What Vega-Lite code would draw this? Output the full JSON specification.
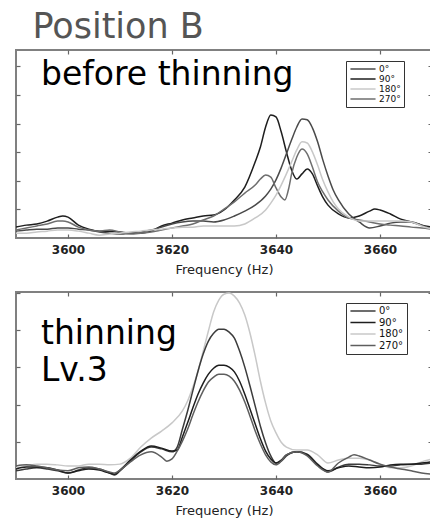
{
"$schema": "https://vega.github.io/schema/vega-lite/v6.json",
"background": "white",
"padding": {"left": 14, "top": 10, "right": 0, "bottom": 0},
"title": {"text": "Position B", "anchor": "start", "font": "DejaVu Sans", "fontSize": 35, "fontWeight": "normal", "color": "#555555", "dx": 18, "offset": 3},
"spacing": 13,
"resolve": {"scale": {"color": "independent"}},
"config": {
  "view": {"stroke": "#808080", "strokeWidth": 2},
  "axis": {"domain": false, "grid": false, "ticks": true, "tickSize": -4, "tickColor": "#666666", "tickWidth": 1.2, "labelFont": "DejaVu Sans", "labelFontWeight": "bold", "labelFontSize": 12, "labelColor": "#222222", "titleFont": "DejaVu Sans", "titleFontSize": 13, "titleFontWeight": "normal", "titleColor": "#222222", "format": "d"},
  "legend": {"title": null, "symbolType": "M-3,0H3", "symbolSize": 70, "symbolStrokeWidth": 1.5, "symbolOffset": 9, "labelFont": "DejaVu Sans", "labelColor": "#111111", "labelAlign": "left", "strokeColor": "#333333", "fillColor": "white", "padding": 3, "labelOffset": 11}
},
"datasets": {
"before": [
{"a":"90°","f":3590,"v":0.38},{"a":"90°","f":3592,"v":0.45},{"a":"90°","f":3594,"v":0.49},{"a":"90°","f":3596,"v":0.59},{"a":"90°","f":3598,"v":0.73},{"a":"90°","f":3599,"v":0.77},{"a":"90°","f":3600,"v":0.73},{"a":"90°","f":3602,"v":0.45},{"a":"90°","f":3604,"v":0.31},{"a":"90°","f":3606,"v":0.24},{"a":"90°","f":3608,"v":0.24},{"a":"90°","f":3610,"v":0.21},{"a":"90°","f":3612,"v":0.17},{"a":"90°","f":3614,"v":0.17},{"a":"90°","f":3616,"v":0.24},{"a":"90°","f":3618,"v":0.42},{"a":"90°","f":3620,"v":0.52},{"a":"90°","f":3622,"v":0.63},{"a":"90°","f":3624,"v":0.70},{"a":"90°","f":3626,"v":0.77},{"a":"90°","f":3628,"v":0.80},{"a":"90°","f":3630,"v":0.98},{"a":"90°","f":3632,"v":1.33},{"a":"90°","f":3634,"v":1.78},{"a":"90°","f":3636,"v":2.66},{"a":"90°","f":3637,"v":3.18},{"a":"90°","f":3638,"v":3.88},{"a":"90°","f":3639,"v":4.30},{"a":"90°","f":3640,"v":4.23},{"a":"90°","f":3641,"v":3.71},{"a":"90°","f":3642,"v":3.01},{"a":"90°","f":3643,"v":2.38},{"a":"90°","f":3644,"v":2.06},{"a":"90°","f":3645,"v":2.24},{"a":"90°","f":3646,"v":2.41},{"a":"90°","f":3647,"v":2.24},{"a":"90°","f":3648,"v":1.82},{"a":"90°","f":3649,"v":1.43},{"a":"90°","f":3650,"v":1.15},{"a":"90°","f":3652,"v":0.84},{"a":"90°","f":3654,"v":0.70},{"a":"90°","f":3656,"v":0.77},{"a":"90°","f":3658,"v":0.94},{"a":"90°","f":3659,"v":1.01},{"a":"90°","f":3660,"v":0.98},{"a":"90°","f":3662,"v":0.84},{"a":"90°","f":3664,"v":0.66},{"a":"90°","f":3666,"v":0.56},{"a":"90°","f":3668,"v":0.45},{"a":"90°","f":3670,"v":0.38},
{"a":"0°","f":3590,"v":0.24},{"a":"0°","f":3592,"v":0.28},{"a":"0°","f":3594,"v":0.31},{"a":"0°","f":3596,"v":0.31},{"a":"0°","f":3598,"v":0.35},{"a":"0°","f":3600,"v":0.35},{"a":"0°","f":3602,"v":0.31},{"a":"0°","f":3604,"v":0.28},{"a":"0°","f":3606,"v":0.21},{"a":"0°","f":3608,"v":0.17},{"a":"0°","f":3610,"v":0.14},{"a":"0°","f":3612,"v":0.17},{"a":"0°","f":3614,"v":0.21},{"a":"0°","f":3616,"v":0.28},{"a":"0°","f":3618,"v":0.38},{"a":"0°","f":3620,"v":0.49},{"a":"0°","f":3622,"v":0.56},{"a":"0°","f":3624,"v":0.59},{"a":"0°","f":3626,"v":0.59},{"a":"0°","f":3628,"v":0.56},{"a":"0°","f":3630,"v":0.63},{"a":"0°","f":3632,"v":0.77},{"a":"0°","f":3634,"v":0.94},{"a":"0°","f":3636,"v":1.15},{"a":"0°","f":3638,"v":1.47},{"a":"0°","f":3639,"v":1.71},{"a":"0°","f":3640,"v":2.03},{"a":"0°","f":3641,"v":2.45},{"a":"0°","f":3642,"v":2.94},{"a":"0°","f":3643,"v":3.43},{"a":"0°","f":3644,"v":3.88},{"a":"0°","f":3645,"v":4.16},{"a":"0°","f":3646,"v":4.13},{"a":"0°","f":3647,"v":3.85},{"a":"0°","f":3648,"v":3.36},{"a":"0°","f":3649,"v":2.73},{"a":"0°","f":3650,"v":2.17},{"a":"0°","f":3651,"v":1.68},{"a":"0°","f":3652,"v":1.33},{"a":"0°","f":3654,"v":0.84},{"a":"0°","f":3656,"v":0.56},{"a":"0°","f":3658,"v":0.35},{"a":"0°","f":3660,"v":0.42},{"a":"0°","f":3662,"v":0.52},{"a":"0°","f":3664,"v":0.56},{"a":"0°","f":3666,"v":0.56},{"a":"0°","f":3668,"v":0.45},{"a":"0°","f":3670,"v":0.31},
{"a":"270°","f":3590,"v":0.28},{"a":"270°","f":3592,"v":0.35},{"a":"270°","f":3594,"v":0.42},{"a":"270°","f":3596,"v":0.49},{"a":"270°","f":3598,"v":0.59},{"a":"270°","f":3599,"v":0.59},{"a":"270°","f":3600,"v":0.56},{"a":"270°","f":3602,"v":0.38},{"a":"270°","f":3604,"v":0.28},{"a":"270°","f":3606,"v":0.24},{"a":"270°","f":3608,"v":0.28},{"a":"270°","f":3610,"v":0.21},{"a":"270°","f":3612,"v":0.14},{"a":"270°","f":3614,"v":0.17},{"a":"270°","f":3616,"v":0.21},{"a":"270°","f":3618,"v":0.28},{"a":"270°","f":3620,"v":0.35},{"a":"270°","f":3622,"v":0.42},{"a":"270°","f":3624,"v":0.49},{"a":"270°","f":3626,"v":0.63},{"a":"270°","f":3628,"v":0.77},{"a":"270°","f":3630,"v":1.01},{"a":"270°","f":3632,"v":1.26},{"a":"270°","f":3634,"v":1.57},{"a":"270°","f":3636,"v":1.85},{"a":"270°","f":3637,"v":2.06},{"a":"270°","f":3638,"v":2.20},{"a":"270°","f":3639,"v":2.13},{"a":"270°","f":3640,"v":1.75},{"a":"270°","f":3641,"v":1.43},{"a":"270°","f":3641.7,"v":1.33},{"a":"270°","f":3642.5,"v":1.78},{"a":"270°","f":3643,"v":2.24},{"a":"270°","f":3644,"v":2.83},{"a":"270°","f":3645,"v":3.11},{"a":"270°","f":3646,"v":2.94},{"a":"270°","f":3647,"v":2.48},{"a":"270°","f":3648,"v":1.96},{"a":"270°","f":3649,"v":1.61},{"a":"270°","f":3650,"v":1.33},{"a":"270°","f":3652,"v":0.94},{"a":"270°","f":3654,"v":0.70},{"a":"270°","f":3656,"v":0.63},{"a":"270°","f":3658,"v":0.56},{"a":"270°","f":3660,"v":0.49},{"a":"270°","f":3662,"v":0.45},{"a":"270°","f":3664,"v":0.42},{"a":"270°","f":3666,"v":0.38},{"a":"270°","f":3668,"v":0.35},{"a":"270°","f":3670,"v":0.31},
{"a":"180°","f":3590,"v":0.17},{"a":"180°","f":3592,"v":0.17},{"a":"180°","f":3594,"v":0.21},{"a":"180°","f":3596,"v":0.24},{"a":"180°","f":3598,"v":0.28},{"a":"180°","f":3600,"v":0.28},{"a":"180°","f":3602,"v":0.24},{"a":"180°","f":3604,"v":0.17},{"a":"180°","f":3606,"v":0.10},{"a":"180°","f":3608,"v":0.14},{"a":"180°","f":3610,"v":0.17},{"a":"180°","f":3612,"v":0.21},{"a":"180°","f":3614,"v":0.24},{"a":"180°","f":3616,"v":0.28},{"a":"180°","f":3618,"v":0.31},{"a":"180°","f":3620,"v":0.35},{"a":"180°","f":3622,"v":0.38},{"a":"180°","f":3624,"v":0.38},{"a":"180°","f":3626,"v":0.42},{"a":"180°","f":3628,"v":0.42},{"a":"180°","f":3630,"v":0.42},{"a":"180°","f":3632,"v":0.42},{"a":"180°","f":3634,"v":0.49},{"a":"180°","f":3636,"v":0.70},{"a":"180°","f":3638,"v":0.98},{"a":"180°","f":3639,"v":1.22},{"a":"180°","f":3640,"v":1.50},{"a":"180°","f":3641,"v":1.85},{"a":"180°","f":3642,"v":2.24},{"a":"180°","f":3643,"v":2.66},{"a":"180°","f":3644,"v":3.08},{"a":"180°","f":3645,"v":3.36},{"a":"180°","f":3646,"v":3.32},{"a":"180°","f":3647,"v":3.01},{"a":"180°","f":3648,"v":2.55},{"a":"180°","f":3649,"v":2.03},{"a":"180°","f":3650,"v":1.61},{"a":"180°","f":3651,"v":1.26},{"a":"180°","f":3652,"v":1.01},{"a":"180°","f":3654,"v":0.73},{"a":"180°","f":3656,"v":0.59},{"a":"180°","f":3660,"v":0.59},{"a":"180°","f":3664,"v":0.59},{"a":"180°","f":3666,"v":0.56},{"a":"180°","f":3668,"v":0.42},{"a":"180°","f":3670,"v":0.31}
],
"lv3": [
{"a":"180°","f":3590,"v":0.30},{"a":"180°","f":3592,"v":0.35},{"a":"180°","f":3594,"v":0.40},{"a":"180°","f":3596,"v":0.40},{"a":"180°","f":3598,"v":0.38},{"a":"180°","f":3600,"v":0.35},{"a":"180°","f":3602,"v":0.35},{"a":"180°","f":3604,"v":0.40},{"a":"180°","f":3606,"v":0.40},{"a":"180°","f":3608,"v":0.38},{"a":"180°","f":3610,"v":0.40},{"a":"180°","f":3612,"v":0.56},{"a":"180°","f":3614,"v":0.86},{"a":"180°","f":3616,"v":1.10},{"a":"180°","f":3618,"v":1.29},{"a":"180°","f":3620,"v":1.51},{"a":"180°","f":3622,"v":1.83},{"a":"180°","f":3623,"v":2.10},{"a":"180°","f":3624,"v":2.47},{"a":"180°","f":3625,"v":2.90},{"a":"180°","f":3626,"v":3.44},{"a":"180°","f":3627,"v":3.98},{"a":"180°","f":3628,"v":4.49},{"a":"180°","f":3629,"v":4.81},{"a":"180°","f":3630,"v":4.97},{"a":"180°","f":3631,"v":5.00},{"a":"180°","f":3632,"v":4.92},{"a":"180°","f":3633,"v":4.73},{"a":"180°","f":3634,"v":4.41},{"a":"180°","f":3635,"v":3.92},{"a":"180°","f":3636,"v":3.31},{"a":"180°","f":3637,"v":2.63},{"a":"180°","f":3638,"v":2.04},{"a":"180°","f":3639,"v":1.56},{"a":"180°","f":3640,"v":1.24},{"a":"180°","f":3641,"v":0.99},{"a":"180°","f":3642,"v":0.86},{"a":"180°","f":3644,"v":0.78},{"a":"180°","f":3646,"v":0.78},{"a":"180°","f":3648,"v":0.65},{"a":"180°","f":3650,"v":0.43},{"a":"180°","f":3652,"v":0.51},{"a":"180°","f":3654,"v":0.56},{"a":"180°","f":3656,"v":0.56},{"a":"180°","f":3658,"v":0.51},{"a":"180°","f":3660,"v":0.40},{"a":"180°","f":3662,"v":0.30},{"a":"180°","f":3664,"v":0.30},{"a":"180°","f":3666,"v":0.35},{"a":"180°","f":3668,"v":0.46},{"a":"180°","f":3670,"v":0.54},
{"a":"0°","f":3590,"v":0.22},{"a":"0°","f":3592,"v":0.27},{"a":"0°","f":3594,"v":0.30},{"a":"0°","f":3596,"v":0.27},{"a":"0°","f":3598,"v":0.22},{"a":"0°","f":3600,"v":0.16},{"a":"0°","f":3602,"v":0.24},{"a":"0°","f":3604,"v":0.30},{"a":"0°","f":3606,"v":0.27},{"a":"0°","f":3608,"v":0.16},{"a":"0°","f":3609,"v":0.11},{"a":"0°","f":3610,"v":0.22},{"a":"0°","f":3612,"v":0.48},{"a":"0°","f":3614,"v":0.73},{"a":"0°","f":3616,"v":0.86},{"a":"0°","f":3618,"v":0.81},{"a":"0°","f":3620,"v":0.73},{"a":"0°","f":3621,"v":0.86},{"a":"0°","f":3622,"v":1.34},{"a":"0°","f":3623,"v":1.83},{"a":"0°","f":3624,"v":2.37},{"a":"0°","f":3625,"v":2.90},{"a":"0°","f":3626,"v":3.36},{"a":"0°","f":3627,"v":3.71},{"a":"0°","f":3628,"v":3.92},{"a":"0°","f":3629,"v":4.03},{"a":"0°","f":3630,"v":4.03},{"a":"0°","f":3631,"v":3.95},{"a":"0°","f":3632,"v":3.79},{"a":"0°","f":3633,"v":3.44},{"a":"0°","f":3634,"v":3.01},{"a":"0°","f":3635,"v":2.50},{"a":"0°","f":3636,"v":1.96},{"a":"0°","f":3637,"v":1.42},{"a":"0°","f":3638,"v":0.97},{"a":"0°","f":3639,"v":0.62},{"a":"0°","f":3640,"v":0.43},{"a":"0°","f":3641,"v":0.48},{"a":"0°","f":3642,"v":0.62},{"a":"0°","f":3644,"v":0.73},{"a":"0°","f":3646,"v":0.67},{"a":"0°","f":3648,"v":0.40},{"a":"0°","f":3650,"v":0.19},{"a":"0°","f":3652,"v":0.32},{"a":"0°","f":3654,"v":0.40},{"a":"0°","f":3656,"v":0.40},{"a":"0°","f":3658,"v":0.38},{"a":"0°","f":3660,"v":0.35},{"a":"0°","f":3662,"v":0.35},{"a":"0°","f":3664,"v":0.38},{"a":"0°","f":3666,"v":0.40},{"a":"0°","f":3668,"v":0.40},{"a":"0°","f":3670,"v":0.43},
{"a":"90°","f":3590,"v":0.27},{"a":"90°","f":3592,"v":0.32},{"a":"90°","f":3594,"v":0.32},{"a":"90°","f":3596,"v":0.30},{"a":"90°","f":3598,"v":0.24},{"a":"90°","f":3600,"v":0.16},{"a":"90°","f":3602,"v":0.22},{"a":"90°","f":3604,"v":0.27},{"a":"90°","f":3606,"v":0.24},{"a":"90°","f":3608,"v":0.16},{"a":"90°","f":3609,"v":0.13},{"a":"90°","f":3610,"v":0.24},{"a":"90°","f":3612,"v":0.51},{"a":"90°","f":3614,"v":0.75},{"a":"90°","f":3616,"v":0.89},{"a":"90°","f":3618,"v":0.83},{"a":"90°","f":3620,"v":0.75},{"a":"90°","f":3621,"v":0.78},{"a":"90°","f":3622,"v":1.13},{"a":"90°","f":3623,"v":1.51},{"a":"90°","f":3624,"v":1.91},{"a":"90°","f":3625,"v":2.28},{"a":"90°","f":3626,"v":2.58},{"a":"90°","f":3627,"v":2.82},{"a":"90°","f":3628,"v":2.98},{"a":"90°","f":3629,"v":3.06},{"a":"90°","f":3630,"v":3.06},{"a":"90°","f":3631,"v":3.01},{"a":"90°","f":3632,"v":2.88},{"a":"90°","f":3633,"v":2.63},{"a":"90°","f":3634,"v":2.28},{"a":"90°","f":3635,"v":1.88},{"a":"90°","f":3636,"v":1.48},{"a":"90°","f":3637,"v":1.08},{"a":"90°","f":3638,"v":0.75},{"a":"90°","f":3639,"v":0.54},{"a":"90°","f":3640,"v":0.43},{"a":"90°","f":3641,"v":0.51},{"a":"90°","f":3642,"v":0.65},{"a":"90°","f":3644,"v":0.73},{"a":"90°","f":3646,"v":0.65},{"a":"90°","f":3648,"v":0.38},{"a":"90°","f":3650,"v":0.22},{"a":"90°","f":3652,"v":0.30},{"a":"90°","f":3654,"v":0.35},{"a":"90°","f":3656,"v":0.32},{"a":"90°","f":3658,"v":0.30},{"a":"90°","f":3660,"v":0.32},{"a":"90°","f":3662,"v":0.38},{"a":"90°","f":3664,"v":0.40},{"a":"90°","f":3666,"v":0.40},{"a":"90°","f":3668,"v":0.43},{"a":"90°","f":3670,"v":0.46},
{"a":"270°","f":3590,"v":0.35},{"a":"270°","f":3592,"v":0.38},{"a":"270°","f":3594,"v":0.35},{"a":"270°","f":3596,"v":0.30},{"a":"270°","f":3598,"v":0.24},{"a":"270°","f":3600,"v":0.22},{"a":"270°","f":3602,"v":0.30},{"a":"270°","f":3604,"v":0.32},{"a":"270°","f":3606,"v":0.27},{"a":"270°","f":3608,"v":0.19},{"a":"270°","f":3609,"v":0.16},{"a":"270°","f":3610,"v":0.24},{"a":"270°","f":3612,"v":0.46},{"a":"270°","f":3614,"v":0.65},{"a":"270°","f":3616,"v":0.73},{"a":"270°","f":3618,"v":0.59},{"a":"270°","f":3619,"v":0.48},{"a":"270°","f":3620,"v":0.54},{"a":"270°","f":3621,"v":0.75},{"a":"270°","f":3622,"v":1.02},{"a":"270°","f":3623,"v":1.34},{"a":"270°","f":3624,"v":1.72},{"a":"270°","f":3625,"v":2.07},{"a":"270°","f":3626,"v":2.37},{"a":"270°","f":3627,"v":2.61},{"a":"270°","f":3628,"v":2.74},{"a":"270°","f":3629,"v":2.82},{"a":"270°","f":3630,"v":2.82},{"a":"270°","f":3631,"v":2.77},{"a":"270°","f":3632,"v":2.63},{"a":"270°","f":3633,"v":2.39},{"a":"270°","f":3634,"v":2.07},{"a":"270°","f":3635,"v":1.69},{"a":"270°","f":3636,"v":1.29},{"a":"270°","f":3637,"v":0.94},{"a":"270°","f":3638,"v":0.65},{"a":"270°","f":3639,"v":0.46},{"a":"270°","f":3640,"v":0.38},{"a":"270°","f":3641,"v":0.48},{"a":"270°","f":3642,"v":0.65},{"a":"270°","f":3644,"v":0.73},{"a":"270°","f":3646,"v":0.62},{"a":"270°","f":3648,"v":0.35},{"a":"270°","f":3650,"v":0.19},{"a":"270°","f":3652,"v":0.43},{"a":"270°","f":3654,"v":0.59},{"a":"270°","f":3655,"v":0.65},{"a":"270°","f":3656,"v":0.62},{"a":"270°","f":3658,"v":0.51},{"a":"270°","f":3660,"v":0.40},{"a":"270°","f":3662,"v":0.32},{"a":"270°","f":3664,"v":0.27},{"a":"270°","f":3666,"v":0.22},{"a":"270°","f":3668,"v":0.16},{"a":"270°","f":3670,"v":0.13}
]
},
"vconcat": [
{
  "width": 416, "height": 188,
  "resolve": {"axis": {"x": "independent", "y": "independent"}},
  "layer": [
    {
      "data": {"name": "before"},
      "mark": {"type": "line", "strokeWidth": 1.5, "interpolate": "monotone", "clip": true},
      "encoding": {
        "x": {"field": "f", "type": "quantitative", "scale": {"domain": [3590, 3670], "nice": false, "zero": false}, "axis": {"title": "Frequency (Hz)", "values": [3600, 3620, 3640, 3660], "labelPadding": 10, "titlePadding": 8}},
        "y": {"field": "v", "type": "quantitative", "scale": {"domain": [0, 6.57], "nice": false}, "axis": {"labels": false, "title": null, "values": [1, 2, 3, 4, 5, 6]}},
        "color": {"field": "a", "type": "nominal", "scale": {"domain": ["0°", "90°", "180°", "270°"], "range": ["#4a4a4a", "#1e1e1e", "#c8c8c8", "#6e6e6e"]},
          "legend": {"orient": "none", "legendX": 330, "legendY": 11, "labelFontSize": 9, "rowPadding": 0}}
      }
    },
    {
      "data": {"values": [{}]},
      "mark": {"type": "text", "font": "DejaVu Sans", "fontSize": 33, "align": "left", "baseline": "alphabetic", "color": "#000000"},
      "encoding": {
        "x": {"datum": 3594.8, "type": "quantitative", "axis": {"orient": "top", "labels": false, "title": null, "values": [3600, 3620, 3640, 3660]}},
        "y": {"datum": 5.35, "type": "quantitative", "axis": {"orient": "right", "labels": false, "title": null, "values": [1, 2, 3, 4, 5, 6]}},
        "text": {"value": "before thinning"}
      }
    }
  ]
},
{
  "width": 416, "height": 187,
  "resolve": {"axis": {"x": "independent", "y": "independent"}},
  "layer": [
    {
      "data": {"name": "lv3"},
      "mark": {"type": "line", "strokeWidth": 1.5, "interpolate": "monotone", "clip": true},
      "encoding": {
        "x": {"field": "f", "type": "quantitative", "scale": {"domain": [3590, 3670], "nice": false, "zero": false}, "axis": {"title": "Frequency (Hz)", "values": [3600, 3620, 3640, 3660], "labelPadding": 10, "titlePadding": 8}},
        "y": {"field": "v", "type": "quantitative", "scale": {"domain": [0, 5.03], "nice": false}, "axis": {"labels": false, "title": null, "values": [1, 2, 3, 4, 5]}},
        "color": {"field": "a", "type": "nominal", "scale": {"domain": ["0°", "90°", "180°", "270°"], "range": ["#3c3c3c", "#1e1e1e", "#c8c8c8", "#5e5e5e"]},
          "legend": {"orient": "none", "legendX": 330, "legendY": 11, "labelFontSize": 10, "rowPadding": 1.5}}
      }
    },
    {
      "data": {"values": [{}]},
      "mark": {"type": "text", "font": "DejaVu Sans", "fontSize": 33, "align": "left", "baseline": "alphabetic", "lineHeight": 37, "color": "#000000"},
      "encoding": {
        "x": {"datum": 3594.8, "type": "quantitative", "axis": {"orient": "top", "labels": false, "title": null, "values": [3600, 3620, 3640, 3660]}},
        "y": {"datum": 3.63, "type": "quantitative", "axis": {"orient": "right", "labels": false, "title": null, "values": [1, 2, 3, 4, 5]}},
        "text": {"value": ["thinning", "Lv.3"]}
      }
    }
  ]
}
]
}
